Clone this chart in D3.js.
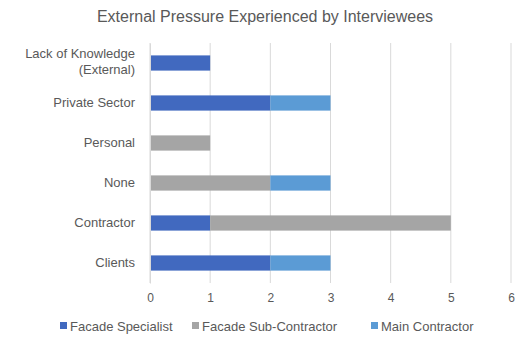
<!DOCTYPE html>
<html><head><meta charset="utf-8">
<script src="https://cdn.jsdelivr.net/npm/d3@7"></script>
<style>body{margin:0;background:#fff;font-family:"Liberation Sans",Arial,sans-serif;}</style>
</head><body>
<svg id="c" width="517" height="342"></svg>
<script>
const categories = ["Lack of Knowledge (External)", "Private Sector", "Personal", "None", "Contractor", "Clients"];
const seriesNames = ["Facade Specialist", "Facade Sub-Contractor", "Main Contractor"];
const specialist = [1, 2, 0, 0, 1, 2];
const subContractor = [0, 0, 1, 2, 4, 0];
const mainContractor = [0, 1, 0, 1, 0, 1];
const xTicks = [0, 1, 2, 3, 4, 5, 6];
const colors = ["#4169BF", "#A5A5A5", "#5B9BD5"];

const svg = d3.select("#c");
const m = {l: 150, r: 6, t: 43, b: 59};
const W = 517, H = 342;
const FONT = "Liberation Sans, Arial, sans-serif";
const x = d3.scaleLinear().domain([0, 6]).range([m.l, W - m.r]);
const y = d3.scaleBand().domain(categories).range([m.t, H - m.b]).paddingInner(0.62).paddingOuter(0.31);

svg.append("text").attr("x", 265).attr("y", 22).attr("text-anchor", "middle")
  .attr("font-size", 16).attr("fill", "#595959").text("External Pressure Experienced by Interviewees");

// gridlines
svg.append("g").selectAll("line").data(xTicks).join("line")
  .attr("x1", d => x(d)).attr("x2", d => x(d)).attr("y1", m.t).attr("y2", H - m.b)
  .attr("stroke", "#D9D9D9").attr("stroke-width", 1);

const stackData = categories.map((c, i) => ({cat: c, s0: specialist[i], s1: subContractor[i], s2: mainContractor[i]}));
const stack = d3.stack().keys(["s0", "s1", "s2"])(stackData);

svg.append("g").selectAll("g").data(stack).join("g").attr("fill", (d, i) => colors[i])
  .selectAll("rect").data(d => d).join("rect")
  .attr("x", d => x(d[0])).attr("width", d => x(d[1]) - x(d[0]))
  .attr("y", d => y(d.data.cat)).attr("height", y.bandwidth());

// x axis
const xa = svg.append("g").attr("transform", `translate(0,${H - m.b})`)
  .call(d3.axisBottom(x).tickValues(xTicks).tickFormat(d3.format("d")).tickSize(0).tickPadding(10));
xa.select(".domain").remove();
xa.selectAll("text").attr("font-size", 12).attr("fill", "#595959").attr("font-family", FONT);

// y axis
const ya = svg.append("g").attr("transform", `translate(${m.l},0)`)
  .call(d3.axisLeft(y).tickSize(0).tickPadding(15));
ya.select(".domain").attr("stroke", "#D9D9D9");
ya.selectAll("text").attr("font-size", 13).attr("fill", "#595959").attr("font-family", FONT)
  .each(function(d) {
    if (d === "Lack of Knowledge (External)") {
      const t = d3.select(this); t.text("");
      t.append("tspan").attr("x", -15).attr("dy", "-0.35em").text("Lack of Knowledge");
      t.append("tspan").attr("x", -15).attr("dy", "1.2em").text("(External)");
    }
  });

// legend
const legX = [60, 192, 371];
seriesNames.forEach((n, i) => {
  const g = svg.append("g").attr("transform", `translate(${legX[i]},326)`);
  g.append("rect").attr("x", 0).attr("y", -4).attr("width", 7).attr("height", 7).attr("fill", colors[i]);
  g.append("text").attr("x", 10).attr("y", 0).attr("dy", "0.35em").attr("font-size", 13)
    .attr("fill", "#595959").attr("font-family", FONT).text(n);
});
</script>
</body></html>
